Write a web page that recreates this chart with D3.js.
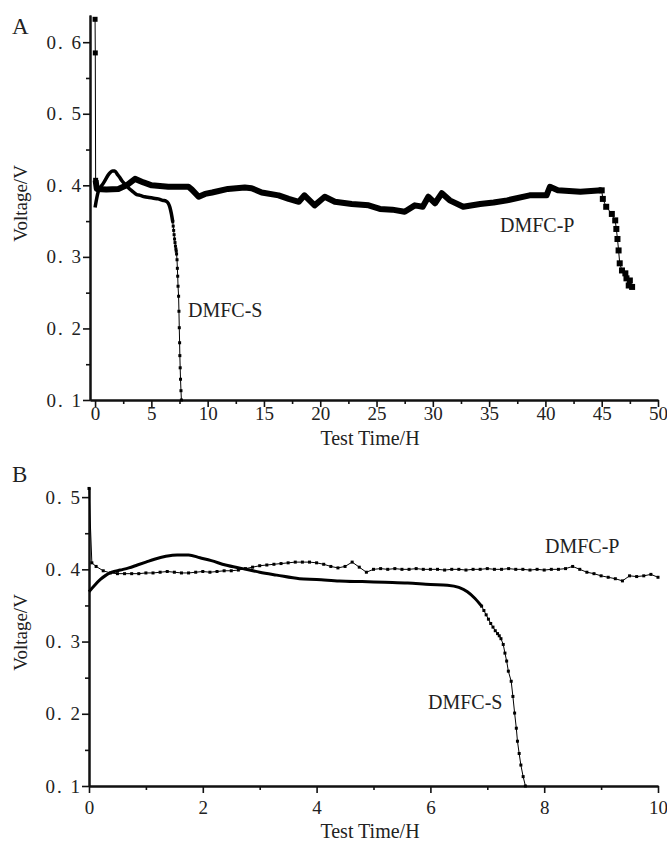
<!DOCTYPE html>
<html>
<head>
<meta charset="utf-8">
<script src="https://cdn.jsdelivr.net/npm/d3@7"></script>
<style>
  body { margin: 0; background: #fff; }
  svg text { font-family: "Liberation Serif", "DejaVu Serif", serif; fill: #222; }
</style>
</head>
<body>
<svg id="chart" width="667" height="841"></svg>
<script>
// DMFC-S : shared by both panels (solid part, then dotted collapse)
const sTime = [0, 0.1, 0.2, 0.3, 0.4, 0.55, 0.7, 0.85, 1.0, 1.15, 1.35, 1.55, 1.75, 1.95, 2.15, 2.4, 2.7, 3.0, 3.3, 3.7, 4.0, 4.4, 4.8, 5.2, 5.6, 6.0, 6.3, 6.5, 6.65, 6.78, 6.9];
const sVolt = [0.369, 0.378, 0.386, 0.392, 0.396, 0.399, 0.402, 0.406, 0.410, 0.414, 0.418, 0.420, 0.420, 0.416, 0.412, 0.406, 0.401, 0.396, 0.392, 0.387, 0.386, 0.384, 0.383, 0.382, 0.381, 0.379, 0.378, 0.375, 0.369, 0.360, 0.349];
const sTailTime = [6.9, 6.94, 6.98, 7.02, 7.06, 7.10, 7.14, 7.18, 7.21, 7.24, 7.28, 7.31, 7.34, 7.37, 7.42, 7.45, 7.48, 7.51, 7.53, 7.56, 7.59, 7.63, 7.67];
const sTailVolt = [0.349, 0.343, 0.337, 0.331, 0.325, 0.320, 0.315, 0.311, 0.308, 0.304, 0.296, 0.284, 0.273, 0.259, 0.245, 0.224, 0.201, 0.180, 0.162, 0.145, 0.129, 0.113, 0.100];

// DMFC-P, panel A (48 h run)
const pAHeadTime = [0, 0.02, 0.05];
const pAHeadVolt = [0.632, 0.585, 0.407];
const pATime = [0.05, 0.15, 1.0, 2.07, 2.8, 3.55, 4.3, 5.03, 6.5, 8.3, 8.6, 9.2, 9.77, 10.4, 11.8, 13.3, 13.9, 14.8, 16.3, 17.2, 18.1, 18.6, 19.5, 20.4, 21.3, 22.8, 24.3, 25.3, 26.4, 27.5, 28.4, 29.1, 29.6, 30.2, 30.8, 31.5, 32.7, 34.2, 35.4, 36.6, 38.6, 40.1, 40.4, 41.1, 43.1, 45.0];
const pAVolt = [0.407, 0.395, 0.394, 0.395, 0.400, 0.409, 0.404, 0.400, 0.398, 0.398, 0.394, 0.384, 0.388, 0.390, 0.395, 0.397, 0.396, 0.390, 0.386, 0.381, 0.377, 0.386, 0.372, 0.384, 0.377, 0.374, 0.372, 0.367, 0.366, 0.363, 0.372, 0.370, 0.384, 0.375, 0.389, 0.379, 0.370, 0.374, 0.376, 0.379, 0.386, 0.386, 0.398, 0.393, 0.391, 0.393];
const pATailTime = [45.0, 45.1, 45.4, 45.9, 46.2, 46.3, 46.4, 46.5, 46.6, 46.8, 47.1, 47.2, 47.4, 47.5, 47.7];
const pATailVolt = [0.393, 0.381, 0.370, 0.360, 0.351, 0.339, 0.325, 0.309, 0.291, 0.281, 0.277, 0.270, 0.260, 0.267, 0.258];

// DMFC-P, panel B (first 10 h)
const pBTime = [0, 0.05, 0.125, 0.25, 0.375, 0.5, 0.625, 0.75, 0.875, 1.0, 1.125, 1.25, 1.375, 1.5, 1.625, 1.75, 1.875, 2.0, 2.125, 2.25, 2.375, 2.5, 2.625, 2.75, 2.875, 3.0, 3.125, 3.25, 3.375, 3.5, 3.625, 3.75, 3.875, 4.0, 4.125, 4.25, 4.375, 4.5, 4.625, 4.75, 4.875, 5.0, 5.125, 5.25, 5.375, 5.5, 5.625, 5.75, 5.875, 6.0, 6.125, 6.25, 6.375, 6.5, 6.625, 6.75, 6.875, 7.0, 7.125, 7.25, 7.375, 7.5, 7.625, 7.75, 7.875, 8.0, 8.125, 8.25, 8.375, 8.5, 8.625, 8.75, 8.875, 9.0, 9.125, 9.25, 9.375, 9.5, 9.625, 9.75, 9.875, 10.0];
const pBVolt = [0.512, 0.409, 0.404, 0.398, 0.395, 0.394, 0.394, 0.394, 0.394, 0.395, 0.395, 0.396, 0.397, 0.396, 0.395, 0.395, 0.396, 0.397, 0.396, 0.397, 0.398, 0.398, 0.399, 0.401, 0.403, 0.405, 0.406, 0.407, 0.408, 0.409, 0.410, 0.410, 0.410, 0.409, 0.407, 0.404, 0.402, 0.404, 0.410, 0.403, 0.396, 0.400, 0.401, 0.400, 0.401, 0.400, 0.400, 0.401, 0.400, 0.400, 0.400, 0.399, 0.400, 0.400, 0.399, 0.400, 0.400, 0.401, 0.400, 0.400, 0.401, 0.400, 0.400, 0.399, 0.400, 0.399, 0.400, 0.400, 0.401, 0.404, 0.400, 0.396, 0.394, 0.391, 0.389, 0.387, 0.384, 0.391, 0.390, 0.391, 0.393, 0.389];

const svg = d3.select("#chart");
const zip = (t, v) => t.map((d, i) => [d, v[i]]);
const yFmt = (d) => d3.format(".1f")(d).replace(".", ". ");

function panel(o) {
  const x = d3.scaleLinear().domain(o.xDomain).range([o.left, o.right]);
  const y = d3.scaleLinear().domain(o.yDomain).range([o.bottom, o.top]);
  const g = svg.append("g");

  // axes: minor ticks first, then major with labels
  g.append("g")
    .attr("transform", `translate(0,${o.bottom})`)
    .call(d3.axisBottom(x).tickValues(o.xMinor).tickSize(4).tickSizeOuter(0).tickFormat(""));
  g.append("g")
    .attr("transform", `translate(0,${o.bottom})`)
    .call(d3.axisBottom(x).tickValues(o.xTicks).tickSize(7).tickSizeOuter(0).tickPadding(o.xPad))
    .call((a) => a.selectAll("text").attr("font-size", 19));
  g.append("g")
    .attr("transform", `translate(${o.left},0)`)
    .call(d3.axisLeft(y).tickValues(o.yMinor).tickSize(4).tickSizeOuter(0).tickFormat(""));
  g.append("g")
    .attr("transform", `translate(${o.left},0)`)
    .call(d3.axisLeft(y).tickValues(o.yTicks).tickSize(7).tickSizeOuter(0).tickPadding(0).tickFormat(yFmt))
    .call((a) => a.selectAll("text").attr("font-size", 19).attr("letter-spacing", 2));
  g.selectAll(".domain").attr("stroke", "#111").attr("stroke-width", 2);
  g.selectAll(".tick line").attr("stroke", "#111").attr("stroke-width", 1.6);

  const line = d3.line().x((d) => x(d[0])).y((d) => y(d[1]));
  const plot = g.append("g");

  o.series.forEach((s) => {
    plot.append("path")
      .datum(s.pts)
      .attr("fill", "none")
      .attr("stroke", "#000")
      .attr("stroke-width", s.width)
      .attr("stroke-linejoin", "round")
      .attr("d", line.curve(s.curve || d3.curveLinear));
    if (s.marker) {
      plot.append("g").selectAll("rect")
        .data(s.pts)
        .join("rect")
        .attr("x", (d) => x(d[0]) - s.marker / 2)
        .attr("y", (d) => y(d[1]) - s.marker / 2)
        .attr("width", s.marker)
        .attr("height", s.marker)
        .attr("fill", "#000");
    }
  });

  // panel letter and axis titles
  g.append("text").attr("x", 12).attr("y", o.letterY).attr("font-size", 23).text(o.letter);
  g.append("text")
    .attr("transform", `translate(27,${(o.top + o.bottom) / 2 - 4}) rotate(-90)`)
    .attr("text-anchor", "middle").attr("font-size", 19)
    .text("Voltage/V");
  g.append("text")
    .attr("x", 370).attr("y", o.titleY)
    .attr("text-anchor", "middle").attr("font-size", 20)
    .text("Test Time/H");
  o.labels.forEach((l) => {
    g.append("text").attr("x", l.x).attr("y", l.y).attr("font-size", 20).text(l.text);
  });
}

panel({
  letter: "A", letterY: 34,
  left: 90, right: 658, top: 15, bottom: 400,
  xDomain: [-0.45, 50], yDomain: [0.1, 0.638],
  xTicks: d3.range(0, 51, 5), xMinor: d3.range(2.5, 50, 5), xPad: 0,
  yTicks: [0.1, 0.2, 0.3, 0.4, 0.5, 0.6], yMinor: [0.15, 0.25, 0.35, 0.45, 0.55],
  titleY: 445,
  series: [
    { pts: zip(pAHeadTime, pAHeadVolt), width: 1, marker: 5 },
    { pts: zip(pATime, pAVolt), width: 6 },
    { pts: zip(pATailTime, pATailVolt), width: 1, marker: 6 },
    { pts: zip(sTime, sVolt), width: 3.5, curve: d3.curveMonotoneX },
    { pts: zip(sTailTime, sTailVolt), width: 1, marker: 3 }
  ],
  labels: [
    { x: 188, y: 317, text: "DMFC-S" },
    { x: 500, y: 232, text: "DMFC-P" }
  ]
});

panel({
  letter: "B", letterY: 482,
  left: 89, right: 658, top: 487, bottom: 786,
  xDomain: [0, 10], yDomain: [0.1, 0.514],
  xTicks: d3.range(0, 11, 2), xMinor: d3.range(1, 10, 2), xPad: 8,
  yTicks: [0.1, 0.2, 0.3, 0.4, 0.5], yMinor: [0.15, 0.25, 0.35, 0.45],
  titleY: 838,
  series: [
    { pts: zip(pBTime, pBVolt), width: 1, marker: 3 },
    { pts: zip(sTime, sVolt), width: 3, curve: d3.curveMonotoneX },
    { pts: zip(sTailTime, sTailVolt), width: 1, marker: 3 }
  ],
  labels: [
    { x: 545, y: 553, text: "DMFC-P" },
    { x: 428, y: 709, text: "DMFC-S" }
  ]
});
</script>
</body>
</html>
